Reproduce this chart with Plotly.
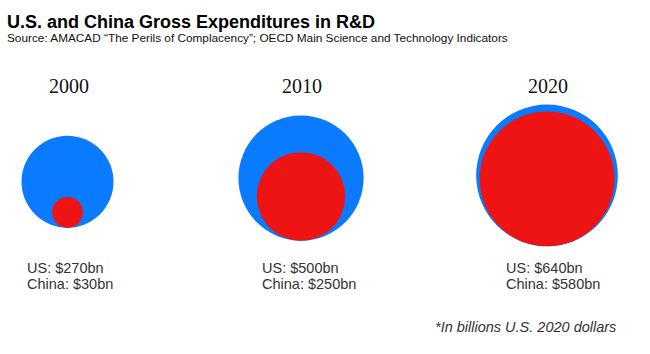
import math
import plotly.graph_objects as go

# ---- data ----
years = ["2000", "2010", "2020"]
us_values = [270, 500, 640]        # billions U.S. 2020 dollars
china_values = [30, 250, 580]

# ---- layout constants ----
W, H = 650, 354
center_x = [67.5, 301, 547]
bottom_y = [227.7, 240.7, 246.3]
K = 2.8  # px radius per sqrt(billion)
BLUE = "#0A7AFF"
RED = "#EE1414"
SANS = "Liberation Sans, Arial, Helvetica, sans-serif"
SERIF = "Liberation Serif, Times New Roman, serif"

us_r = [K * math.sqrt(v) for v in us_values]
cn_r = [K * math.sqrt(v) for v in china_values]

fig = go.Figure()
fig.add_trace(go.Scatter(
    x=center_x,
    y=[b - r for b, r in zip(bottom_y, us_r)],
    mode="markers",
    marker=dict(size=[2 * r for r in us_r], color=BLUE, line=dict(width=0), opacity=1),
    hoverinfo="skip", showlegend=False,
))
fig.add_trace(go.Scatter(
    x=center_x,
    y=[b - r for b, r in zip(bottom_y, cn_r)],
    mode="markers",
    marker=dict(size=[2 * r for r in cn_r], color=RED, line=dict(width=0), opacity=1),
    hoverinfo="skip", showlegend=False,
))

ann = []
def add(text, x, y, size, family, color, xanchor="left", italic=False, bold=False):
    if bold:
        text = "<b>" + text + "</b>"
    if italic:
        text = "<i>" + text + "</i>"
    ann.append(dict(text=text, x=x, y=y, xref="x", yref="y", showarrow=False,
                    xanchor=xanchor, yanchor="middle",
                    font=dict(size=size, family=family, color=color), borderpad=0))

add("U.S. and China Gross Expenditures in R&D", 6, 21.5, 18, SANS, "#000", bold=True)
add("Source: AMACAD “The Perils of Complacency”; OECD Main Science and Technology Indicators",
    6, 37.5, 11.8, SANS, "#111")

label_x = [26, 261, 505]
for i, yr in enumerate(years):
    add(yr, center_x[i] + 1, 85.5, 20, SERIF, "#111", xanchor="center")
    add(f"US: ${us_values[i]}bn", label_x[i], 268, 14.5, SANS, "#333")
    add(f"China: ${china_values[i]}bn", label_x[i], 283.5, 14.5, SANS, "#333")

add("*In billions U.S. 2020 dollars", 434, 327, 14.5, SANS, "#333", italic=True)

fig.update_layout(
    width=W, height=H,
    margin=dict(l=0, r=0, t=0, b=0),
    paper_bgcolor="white", plot_bgcolor="white",
    xaxis=dict(range=[0, W], visible=False, fixedrange=True),
    yaxis=dict(range=[H, 0], visible=False, fixedrange=True),
    annotations=ann,
    showlegend=False,
)
fig.write_html("out.html", config={"displayModeBar": False})
